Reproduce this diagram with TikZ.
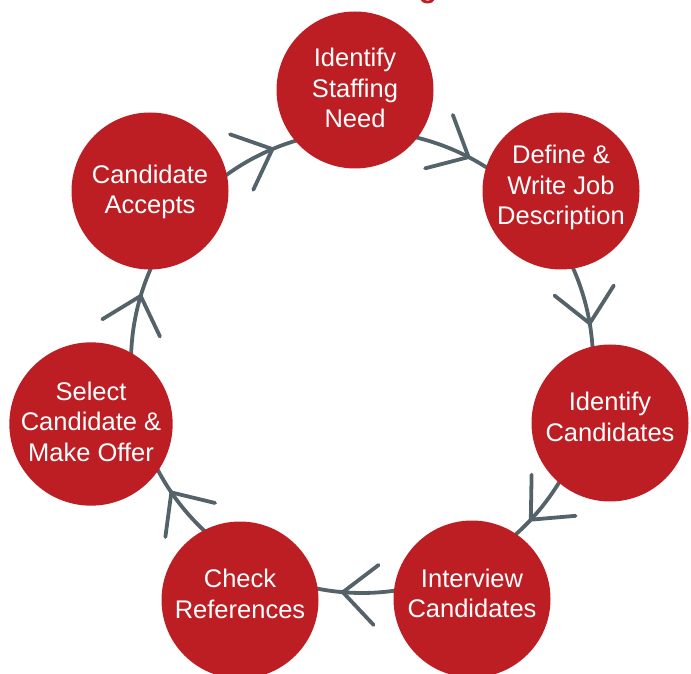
\documentclass[tikz,border=0pt]{standalone}
\usepackage{fontspec}
\setmainfont{Liberation Sans}
\usetikzlibrary{calc,decorations.markings,backgrounds}
\definecolor{stagered}{RGB}{189,30,36}
\definecolor{conngray}{RGB}{84,98,106}
\tikzset{
  stage/.style={circle,fill=stagered,minimum size=157pt,inner sep=0pt,
    text=white,align=center,font=\fontsize{25.5}{30.5}\selectfont},
  chevron/.style={draw=conngray,line width=3.8pt,line cap=round,line join=round},
  conn/.style={chevron,postaction={decorate},
    decoration={markings,mark=at position 0.57 with
      {\draw[chevron] (-33.4pt,30.1pt) -- (0pt,0pt) -- (-33.4pt,-30.1pt);}}}
}
\begin{document}
\begin{tikzpicture}[x=1pt,y=1pt]
\useasboundingbox (0,0) rectangle (691,673);
\coordinate (C) at (362,311);
\node[anchor=base,text=stagered,font=\fontsize{30}{36}\selectfont\bfseries] (title) at (428,675.5) {g};
\node[stage,text depth=4pt] (n1) at (355,583) {Identify\\Staffing\\Need};
\node[stage,text depth=12pt] (n2) at (561,482) {Define \&\\Write Job\\Description};
\node[stage,text depth=12pt] (n3) at (610,250) {Identify\\Candidates};
\node[stage,text depth=11pt] (n4) at (472,74) {Interview\\Candidates};
\node[stage,text depth=12pt] (n5) at (240,73) {Check\\References};
\node[stage,text depth=5pt] (n6) at (91,249) {Select\\Candidate \&\\Make Offer};
\node[stage,text depth=3pt] (n7) at (150,482) {Candidate\\Accepts};
\begin{pgfonlayer}{background}
\foreach \a/\b in {n1/n2,n2/n3,n3/n4,n4/n5,n5/n6,n6/n7,n7/n1}{
  \draw[conn] let \p1=($(\a.center)-(C)$), \p2=($(\b.center)-(C)$),
    \n1={atan2(\y1,\x1)}, \n2={atan2(\y2,\x2)},
    \n3={\n1-mod(\n1-\n2+720,360)} in
    ($(C)+(\n1:231pt)$) arc[start angle=\n1, end angle=\n3, radius=231pt];
}
\end{pgfonlayer}
\end{tikzpicture}
\end{document}
